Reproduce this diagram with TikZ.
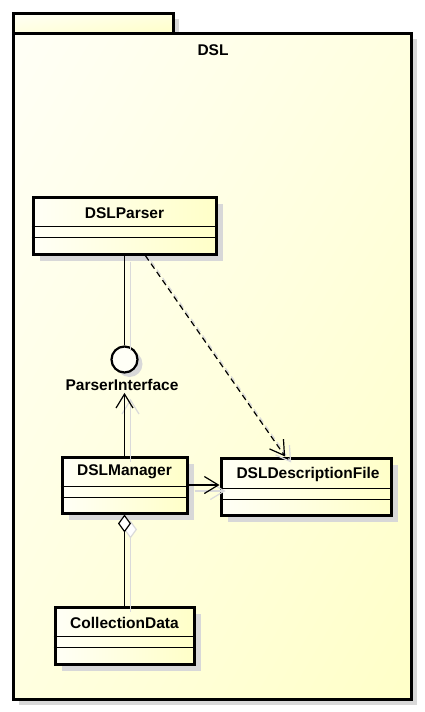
\documentclass[tikz,border=0pt]{standalone}
\usepackage{fontspec}
\setmainfont{Liberation Sans}
\usetikzlibrary{arrows.meta,calc,shadings}
\definecolor{umly}{HTML}{FFFFC8}
\definecolor{umlm}{HTML}{FFFFE0}
\definecolor{umlw}{HTML}{FFFFF6}
\definecolor{shd}{HTML}{D8D8D8}
\definecolor{lshd}{HTML}{DADADA}
\begin{document}
\begin{tikzpicture}[x=1pt,y=-1pt,
  txt/.style={font=\fontsize{15.5}{18}\selectfont\bfseries, inner sep=0pt},
  pkgbox/.style={draw, line width=3pt, upper left=umlw, lower right=umly, upper right=umlm, lower left=umlm},
  clsbox/.style={draw, line width=3pt, rectangle, inner sep=0pt, left color=umlw, right color=umly},
  shadowbox/.style={fill=shd},
  sepline/.style={line width=0.8pt},
  conn/.style={line width=1.2pt},
  barb/.style={-{Straight Barb[length=14pt,width=17pt,line width=1.2pt]}}
]
\useasboundingbox (0,0) rectangle (424,712);
% package shadow
\fill[shadowbox] (19,39) rectangle (417,705);
\fill[shadowbox] (19,19) rectangle (179,39);
% package
\path[pkgbox] (13,13) rectangle (173,33);
\path[pkgbox] (13,33) rectangle (411,699);
\node[txt] (pkgname) at (213,50) {DSL};

% class shadows
\fill[shadowbox] (40,204) rectangle (223,261);
\fill[shadowbox] (69,464) rectangle (194,520);
\fill[shadowbox] (228,465) rectangle (398,522);
\fill[shadowbox] (62,614) rectangle (201,671);
\fill[shadowbox] (129.5,364) circle (13);

% classes
\node[clsbox, minimum width=183pt, minimum height=57pt] (parser) at (124.5,225.5) {};
\node[txt] (parserlbl) at (124.5,213) {DSLParser};
\draw[sepline] ($(parser.north west)+(0,31)$) -- ($(parser.north east)+(0,31)$);
\draw[sepline] ($(parser.north west)+(0,42)$) -- ($(parser.north east)+(0,42)$);

\node[clsbox, minimum width=125pt, minimum height=56pt] (manager) at (124.5,485) {};
\node[txt] (managerlbl) at (124.5,472) {DSLManager};
\draw[sepline] ($(manager.north west)+(0,31)$) -- ($(manager.north east)+(0,31)$);
\draw[sepline] ($(manager.north west)+(0,42)$) -- ($(manager.north east)+(0,42)$);

\node[clsbox, minimum width=170pt, minimum height=57pt] (desc) at (306,486.5) {};
\node[txt] (desclbl) at (308,474) {DSLDescriptionFile};
\draw[sepline] ($(desc.north west)+(0,32)$) -- ($(desc.north east)+(0,32)$);
\draw[sepline] ($(desc.north west)+(0,43)$) -- ($(desc.north east)+(0,43)$);

\node[clsbox, minimum width=139pt, minimum height=57pt] (coll) at (124.5,635.5) {};
\node[txt] (colllbl) at (124.5,623) {CollectionData};
\draw[sepline] ($(coll.north west)+(0,31)$) -- ($(coll.north east)+(0,31)$);
\draw[sepline] ($(coll.north west)+(0,42)$) -- ($(coll.north east)+(0,42)$);

% interface
\node[circle, draw, line width=2.2pt, minimum size=26pt, inner sep=0pt, fill=umlw] (iface) at (124.5,359.5) {};
\node[txt] (ifacelbl) at (122,385) {ParserInterface};

% connector shadows
\begin{scope}[transform canvas={shift={(6pt,-6pt)}}, draw=lshd, color=lshd]
\draw[conn] (parser.south) -- (iface.north);
\draw[conn, barb] (manager.north) -- ($(manager.north |- ifacelbl.south)+(0,2)$);
\draw[conn, barb] (manager.east) -- (manager.east -| desc.west);
\draw[conn, barb, dash pattern=on 6pt off 4pt] (parser) -- (desc);
\draw[conn, {Diamond[length=18pt,width=13pt,fill=white]}-] (manager.south) -- (coll.north);
\end{scope}

% connectors
\draw[conn] (parser.south) -- (iface.north);
\draw[conn, barb] (manager.north) -- ($(manager.north |- ifacelbl.south)+(0,2)$);
\draw[conn, barb] (manager.east) -- (manager.east -| desc.west);
\draw[conn, barb, dash pattern=on 6pt off 4pt] (parser) -- (desc);
\draw[conn, {Diamond[length=18pt,width=13pt,fill=white]}-] (manager.south) -- (coll.north);
\end{tikzpicture}
\end{document}
